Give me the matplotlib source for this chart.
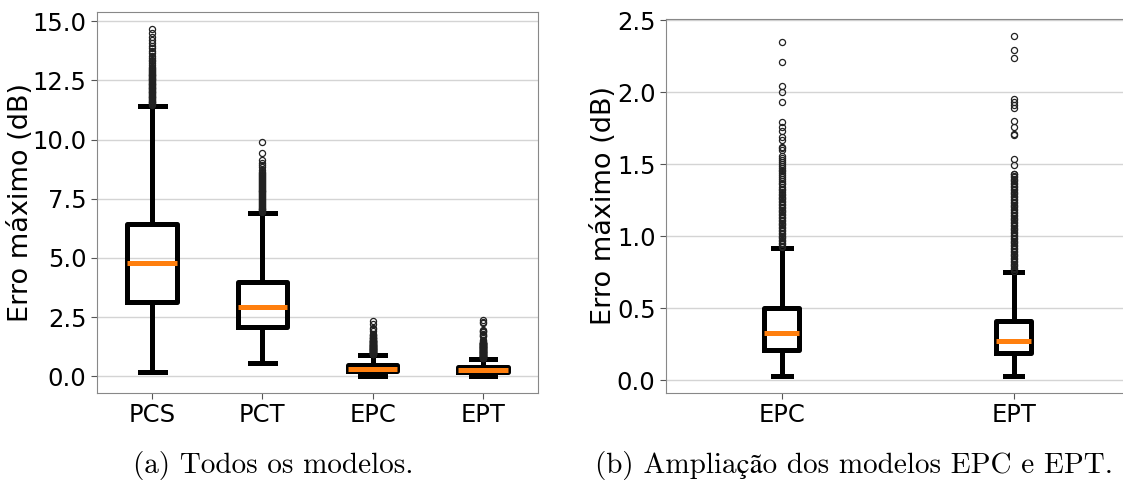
import matplotlib
matplotlib.use('Agg')
import matplotlib.pyplot as plt

# box statistics (dB)
models_all = ['PCS', 'PCT', 'EPC', 'EPT']
whis_lo = [0.2, 0.55, 0.03, 0.03]
q1 = [3.15, 2.1, 0.21, 0.19]
med = [4.8, 2.92, 0.325, 0.275]
q3 = [6.45, 4.0, 0.5, 0.41]
whis_hi = [11.43, 6.88, 0.915, 0.75]

fliers_pcs = [14.66, 14.5, 14.35, 14.2, 14.07, 13.95, 13.85, 13.75, 13.65,
              13.55, 13.45, 13.38, 13.3, 13.22, 13.15, 13.08,
              13.02, 12.97, 12.93, 12.9, 12.86, 12.83, 12.79, 12.75, 12.72,
              12.68, 12.65, 12.61, 12.58, 12.55, 12.51, 12.47, 12.44, 12.41,
              12.37, 12.34, 12.3, 12.27, 12.24, 12.2, 12.17, 12.13, 12.1,
              12.06, 12.03, 12.0, 11.96, 11.93, 11.89, 11.86, 11.82, 11.79,
              11.75, 11.72, 11.68, 11.65, 11.61, 11.58, 11.55, 11.51, 11.48]
fliers_pct = [9.92, 9.45, 9.12, 9.03, 8.94, 8.84, 8.73, 8.63,
              8.57, 8.53, 8.49, 8.45, 8.41, 8.37, 8.33, 8.29, 8.25, 8.21,
              8.17, 8.13, 8.09, 8.05, 8.01, 7.97, 7.93, 7.89, 7.85, 7.81,
              7.77, 7.73, 7.69, 7.65, 7.61, 7.57, 7.53, 7.49, 7.45, 7.41,
              7.37, 7.33, 7.29, 7.25, 7.21, 7.17, 7.13, 7.09, 7.05, 7.01,
              6.97, 6.93]
fliers_epc = [2.35, 2.21, 2.04, 2.0, 1.935, 1.79, 1.76, 1.73, 1.69, 1.665,
              1.62, 1.61, 1.6,
              1.56, 1.545, 1.53, 1.515, 1.5, 1.49, 1.475, 1.46, 1.45, 1.44,
              1.425, 1.41, 1.4, 1.385, 1.37, 1.36, 1.345, 1.33, 1.32, 1.305,
              1.295, 1.285, 1.275, 1.265, 1.255, 1.245, 1.235, 1.225, 1.215,
              1.205, 1.195, 1.185, 1.175, 1.165, 1.155, 1.145, 1.135, 1.125,
              1.115, 1.105, 1.095, 1.085, 1.075, 1.065, 1.055, 1.045, 1.035,
              1.025, 1.015, 1.005, 0.995, 0.985, 0.975, 0.965, 0.955, 0.945,
              0.935, 0.925]
fliers_ept = [2.39, 2.29, 2.24, 1.95, 1.935, 1.91, 1.89, 1.8, 1.76, 1.71,
              1.7, 1.535, 1.495,
              1.435, 1.43, 1.42, 1.41, 1.4, 1.39, 1.38, 1.37, 1.36, 1.35,
              1.34, 1.33, 1.32, 1.31, 1.3, 1.29, 1.28, 1.27, 1.26, 1.25,
              1.24, 1.23, 1.22, 1.21, 1.2, 1.19, 1.18, 1.17, 1.16, 1.15,
              1.14, 1.13, 1.12, 1.11, 1.1, 1.09, 1.08, 1.07, 1.06, 1.05,
              1.04, 1.03, 1.02, 1.01, 1.0, 0.99, 0.98, 0.97, 0.96, 0.95,
              0.94, 0.93, 0.92, 0.91, 0.9, 0.89, 0.88, 0.87, 0.86, 0.85,
              0.84, 0.83, 0.82, 0.81, 0.8, 0.79, 0.78, 0.77, 0.76]
fliers = [fliers_pcs, fliers_pct, fliers_epc, fliers_ept]

yticks_a = [0.0, 2.5, 5.0, 7.5, 10.0, 12.5, 15.0]
yticks_b = [0.0, 0.5, 1.0, 1.5, 2.0, 2.5]
caption_a = '(a) Todos os modelos.'
caption_b = '(b) Ampliação dos modelos EPC e EPT.'


def make_stats(idx):
    out = []
    for i in idx:
        out.append(dict(label=models_all[i], whislo=whis_lo[i], q1=q1[i],
                        med=med[i], q3=q3[i], whishi=whis_hi[i],
                        fliers=fliers[i]))
    return out


def draw(ax, stats, yticks, label_x):
    lw = 3.6
    ax.bxp(stats,
           boxprops=dict(color='black', linewidth=lw),
           whiskerprops=dict(color='black', linewidth=lw),
           capprops=dict(color='black', linewidth=lw),
           medianprops=dict(color='#ff7f0e', linewidth=lw),
           flierprops=dict(marker='o', markersize=4.4, markerfacecolor='none',
                           markeredgecolor='#222222', markeredgewidth=0.9))
    ax.set_yticks(yticks)
    ax.set_yticklabels(['%.1f' % v for v in yticks])
    ax.yaxis.grid(True, color='#d4d4d4', linewidth=1.0)
    ax.set_axisbelow(True)
    ax.tick_params(labelsize=17.5, color='#555555', length=4)
    for s in ax.spines.values():
        s.set_color('#888888')
    ax.set_ylabel('Erro máximo (dB)', fontsize=19.5)
    ax.yaxis.set_label_coords(label_x, 0.5)


fig = plt.figure(figsize=(11.23, 4.97), dpi=100)

ax1 = fig.add_axes([0.0864, 0.2093, 0.3927, 0.7666])
draw(ax1, make_stats([0, 1, 2, 3]), yticks_a, -0.143)

ax2 = fig.add_axes([0.593, 0.2093, 0.413, 0.7525])
draw(ax2, make_stats([2, 3]), yticks_b, -0.105)

cap_font = ['cmr10', 'STIXGeneral', 'DejaVu Serif']
fig.text(0.243, 0.064, caption_a, ha='center', va='center', fontsize=21,
         family=cap_font)
fig.text(0.76, 0.064, caption_b, ha='center', va='center', fontsize=21,
         family=cap_font)

plt.savefig('out.png', dpi=100)
